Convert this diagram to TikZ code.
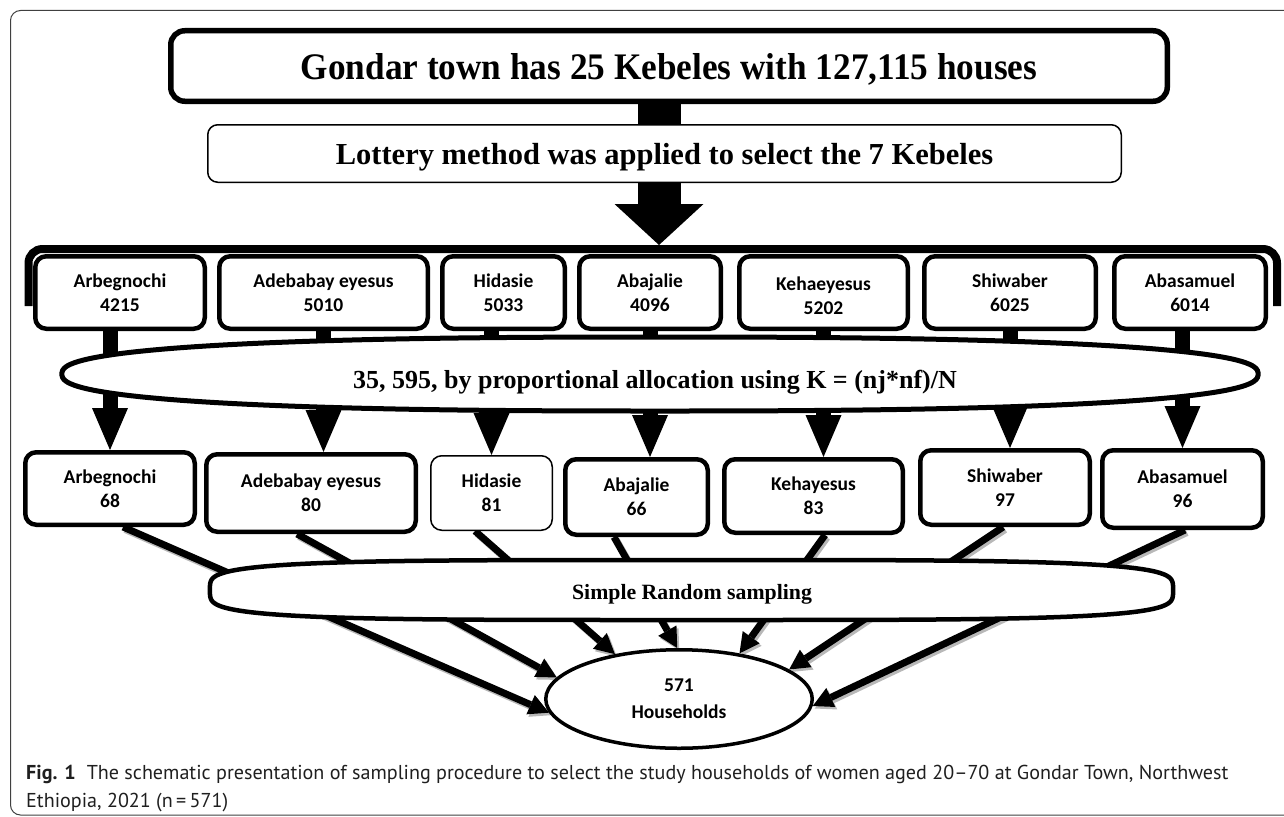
\documentclass[tikz,border=0pt]{standalone}
\usepackage{fontspec}
\setmainfont{Liberation Serif}
\newfontfamily\calfont{Carlito}
\newfontfamily\capfont{PT Sans}
\usetikzlibrary{arrows.meta,calc,shapes.geometric}
\pgfdeclarelayer{bg}
\pgfsetlayers{bg,main}
\newcommand\superell[6]{%
  \draw[#6] plot[domain=1:359, samples=180, variable=\ang]
    ({#1+#3*sign(cos(\ang))*abs(cos(\ang))^#5},{#2+#4*sign(sin(\ang))*abs(sin(\ang))^#5}) -- cycle;}
\tikzset{
  titlebox/.style={draw, line width=5.5pt, rounded corners=14pt, fill=white, inner sep=0pt, text depth=0pt,
    font=\bfseries\fontsize{37.5}{42}\selectfont},
  lotbox/.style={draw, line width=1.5pt, rounded corners=10pt, fill=white, inner sep=0pt, text depth=0pt,
    font=\bfseries\fontsize{30.5}{34}\selectfont},
  kbox/.style={draw, line width=4.5pt, rounded corners=11pt, fill=white, inner sep=0pt, align=center,
    font=\calfont\bfseries\fontsize{19.5}{24}\selectfont},
  thinbox/.style={kbox, line width=1.5pt},
  bigarrow/.style={line width=15pt, -{Triangle[length=42pt,width=36pt,line width=0pt]}},
  hugearrow/.style={line width=43pt, -{Triangle[length=41pt,width=89pt,line width=0pt]}},
  flowline/.style={line width=7pt, -{Triangle[length=20pt,width=21pt,line width=0pt]}},
  flowshadow/.style={flowline, draw=black!28, fill=black!28},
  ovaltext/.style={inner sep=0pt, font=\bfseries\fontsize{26}{30}\selectfont},
  srstext/.style={inner sep=0pt, font=\bfseries\fontsize{21.8}{26}\selectfont},
  captext/.style={anchor=base west, inner sep=0pt, text=black!88, font=\capfont\fontsize{20.1}{27}\selectfont},
}
\begin{document}
\begin{tikzpicture}[x=1pt,y=-1pt]
\useasboundingbox (0,0) rectangle (1284,816);
\begin{scope}
  \clip (0,0) rectangle (1284,816);
  \draw[black!75, line width=1pt, rounded corners=10pt] (10.5,10.5) rectangle (1310,815);
\end{scope}

% title and lottery boxes
\node[titlebox, minimum width=996.5pt, minimum height=70.5pt] (title) at (669,66)
  {\scalebox{0.94}[1]{Gondar town has 25 Kebeles with 127,115 houses}};
\node[lotbox, minimum width=913.5pt, minimum height=57.5pt] (lottery) at (664.5,153.5)
  {Lottery method was applied to select the 7 Kebeles};
\coordinate (bigtip) at (659,245);

% bracket over the top row
\draw[line width=8pt, rounded corners=14pt] (28.5,306) |- (1277,249) -- (1277,306);

% top row
\node[kbox, minimum width=169.5pt, minimum height=72.5pt] (t1) at (120,292.5) {Arbegnochi\\4215};
\node[kbox, minimum width=208.5pt, minimum height=72.5pt] (t2) at (323.5,292.5) {Adebabay eyesus\\5010};
\node[kbox, minimum width=122.5pt, minimum height=72.5pt] (t3) at (503.5,292.5) {Hidasie\\5033};
\node[kbox, minimum width=141.5pt, minimum height=72.5pt] (t4) at (650,292.5) {Abajalie\\4096};
\node[kbox, minimum width=168.5pt, minimum height=72.5pt] (t5) at (823.5,292.5) {\rule{0pt}{19.3pt}Kehaeyesus\\5202};
\node[kbox, minimum width=171.5pt, minimum height=72.5pt] (t6) at (1010,292.5) {Shiwaber\\6025};
\node[kbox, minimum width=151.5pt, minimum height=72.5pt] (t7) at (1190,292.5) {Abasamuel\\6014};

% allocation oval
\superell{660}{374}{598}{37}{0.8}{line width=5pt, fill=white}
\node[ovaltext, anchor=base] (alloc) at (655,388) {35, 595, by proportional allocation using K = (nj*nf)/N};

% second row
\node[kbox, minimum width=169.5pt, minimum height=72.5pt] (b1) at (110,488.5) {Arbegnochi\\68};
\node[kbox, minimum width=209.5pt, minimum height=77.5pt] (b2) at (311,493) {Adebabay eyesus\\80};
\node[thinbox, minimum width=121.5pt, minimum height=74.5pt] (b3) at (491.5,493) {Hidasie\\81};
\node[kbox, minimum width=142.5pt, minimum height=75.5pt] (b4) at (636.5,497) {Abajalie\\66};
\node[kbox, minimum width=178.5pt, minimum height=73.5pt] (b5) at (813.5,496) {Kehayesus\\83};
\node[kbox, minimum width=169.5pt, minimum height=74.5pt] (b6) at (1005,487.5) {Shiwaber\\97};
\node[kbox, minimum width=160.5pt, minimum height=77.5pt] (b7) at (1182.5,489) {Abasamuel\\96};

% simple random sampling oval
\superell{691.5}{590}{481.5}{30}{0.5}{line width=4.5pt, fill=white}
\node[srstext, anchor=base] (srs) at (692,599) {Simple Random sampling};

% households
\node[ellipse, draw, line width=3.5pt, fill=white, minimum width=266.5pt, minimum height=98.5pt,
  inner sep=0pt, align=center, font=\calfont\bfseries\fontsize{19.5}{27}\selectfont] (hh) at (679,699)
  {571\\Households};

% start points of the flow lines
\coordinate (s1) at ($(b1.south west)!0.575!(b1.south east)$);
\coordinate (s2) at ($(b2.south west)!0.435!(b2.south east)$);
\coordinate (s3) at ($(b3.south west)!0.366!(b3.south east)$);
\coordinate (s4) at ($(b4.south west)!0.347!(b4.south east)$);
\coordinate (s5) at ($(b5.south west)!0.563!(b5.south east)$);
\coordinate (s6) at ($(b6.south west)!0.489!(b6.south east)$);
\coordinate (s7) at ($(b7.south west)!0.515!(b7.south east)$);

\begin{pgfonlayer}{bg}
  \draw[hugearrow] (bigtip |- title.south) -- (bigtip);
  \draw[bigarrow] (b1.north |- t1.south) -- (b1.north);
  \draw[bigarrow] (t2.south) -- (t2.south |- b2.north);
  \draw[bigarrow] (b3.north |- t3.south) -- (b3.north);
  \draw[bigarrow] (t4.south) -- (t4.south |- b4.north);
  \draw[bigarrow] (t5.south) -- (t5.south |- b5.north);
  \draw[bigarrow] (t6.south) -- (t6.south |- b6.north);
  \draw[bigarrow] (b7.north |- t7.south) -- (b7.north);
  \foreach \s/\e in {s1/hh.186, s2/hh.170, s3/hh.145, s4/hh.92, s5/hh.37, s6/hh.15, s7/hh.357.5} {
    \draw[flowshadow] ([shift={(2pt,-2.5pt)}]\s) -- ([shift={(2pt,-2.5pt)}]\e);
    \draw[flowline] (\s) -- (\e);
  }
\end{pgfonlayer}

% caption
\node[captext] (cap1) at (26,779) {\textbf{Fig. 1}\hspace{0.55em}The schematic presentation of sampling procedure to select the study households of women aged 20–70 at Gondar Town, Northwest};
\node[captext] (cap2) at (26,807) {Ethiopia, 2021 (n\,=\,571)};
\end{tikzpicture}
\end{document}
